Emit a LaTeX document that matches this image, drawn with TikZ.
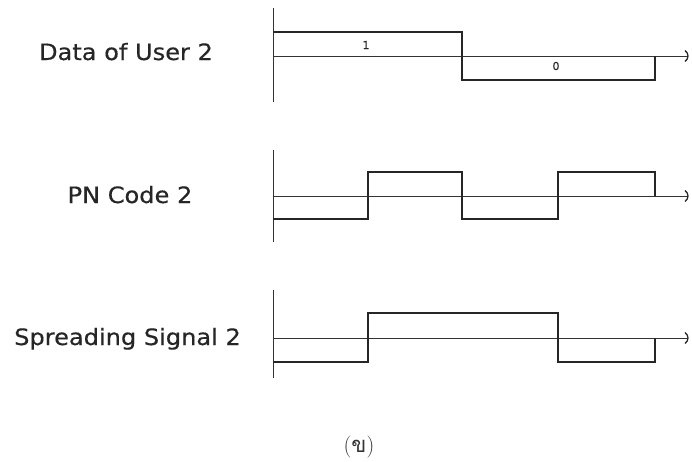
\documentclass[tikz,border=0pt]{standalone}
\usepackage{fontspec}
\setmainfont{DejaVu Sans}[FakeBold=0.4]
\newfontfamily\thaifont[Script=Thai]{Loma}
\newfontfamily\capfont{Latin Modern Roman}
\begin{document}
\begin{tikzpicture}[x=1pt,y=-1pt,
  wave/.style={line width=1.2pt,draw=black!85,line join=miter},
  axisline/.style={line width=0.9pt,draw=black!80},
  tipline/.style={line width=1.3pt,draw=black!85},
  siglabel/.style={anchor=base,font=\fontsize{22.5}{26}\selectfont,xscale=1.07,text=black!85,inner sep=0pt},
  bitlabel/.style={font=\fontsize{11}{13}\selectfont,text=black!85,inner sep=0pt}]
\useasboundingbox (0,0) rectangle (692,461);

% bracket-shaped arrow tip at the end of a time axis
\newcommand\axistip[1]{\draw[tipline] (#1) ++(-3,-5.5) .. controls +(4,3) and +(4,-3) .. ++(0,11);}

% --- row 1: user data ---
\node[siglabel] (l1) at (126,60) {Data of User 2};
\coordinate (v1t) at (273,8);
\coordinate (v1b) at (273,102);
\coordinate (a1s) at (273,56);
\coordinate (a1e) at (688,56);
\draw[axisline] (v1t) -- (v1b);
\draw[axisline] (a1s) -- (a1e);
\axistip{a1e}
\draw[wave] (273,32) -- (462,32) -- (462,80) -- (655,80) -- (655,56);
\node[bitlabel] (b1) at (366,45) {1};
\node[bitlabel] (b0) at (556,66) {0};

% --- row 2: PN code ---
\node[siglabel] (l2) at (130,203) {PN Code 2};
\coordinate (v2t) at (273,150);
\coordinate (v2b) at (273,242);
\coordinate (a2s) at (273,196);
\coordinate (a2e) at (688,196);
\draw[axisline] (v2t) -- (v2b);
\draw[axisline] (a2s) -- (a2e);
\axistip{a2e}
\draw[wave] (273,219) -- (368,219) -- (368,172) -- (462,172) -- (462,219)
  -- (558,219) -- (558,172) -- (655,172) -- (655,196);

% --- row 3: spread signal ---
\node[siglabel] (l3) at (127.5,345) {Spreading Signal 2};
\coordinate (v3t) at (273,290);
\coordinate (v3b) at (273,378);
\coordinate (a3s) at (273,338);
\coordinate (a3e) at (688,338);
\draw[axisline] (v3t) -- (v3b);
\draw[axisline] (a3s) -- (a3e);
\axistip{a3e}
\draw[wave] (273,362) -- (368,362) -- (368,313) -- (558,313) -- (558,362)
  -- (655,362) -- (655,338);

% --- caption ---
\node[font=\fontsize{22}{26}\selectfont,text=black!80,inner sep=0pt] (cap) at (359,447)
  {\capfont(\thaifont ข\capfont)};
\end{tikzpicture}
\end{document}
